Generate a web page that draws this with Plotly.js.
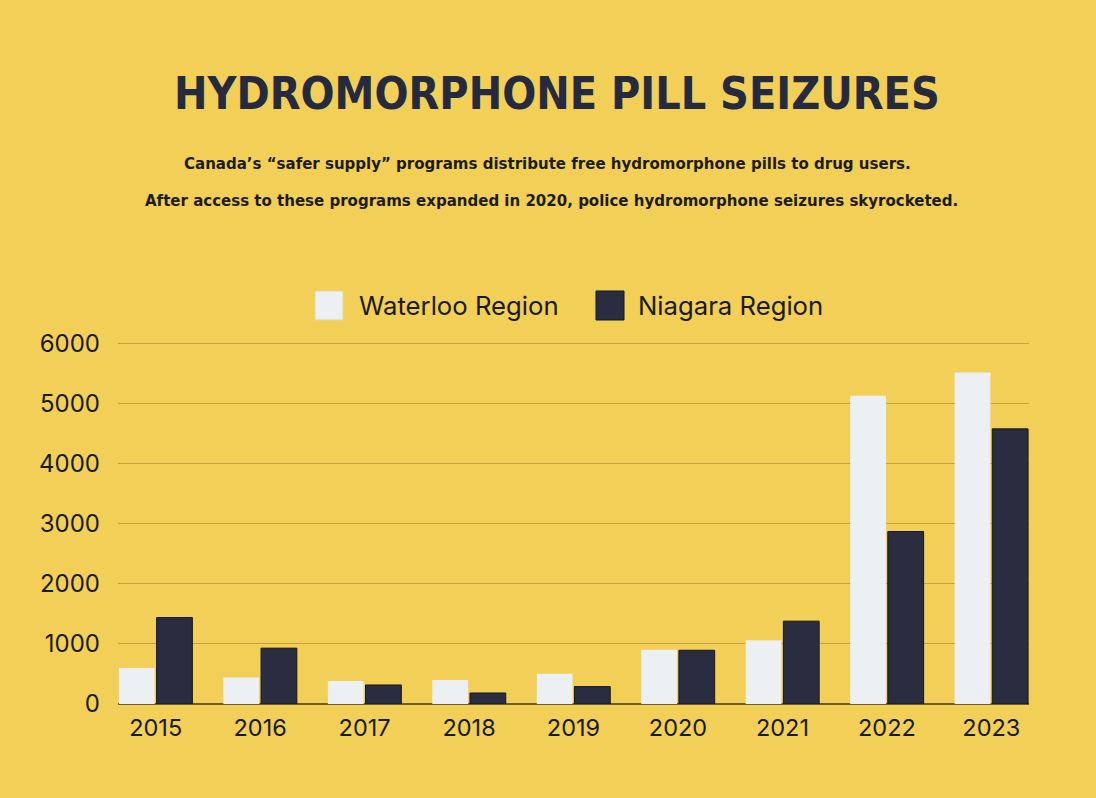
<!DOCTYPE html>
<html>
<head>
<meta charset="utf-8">
<script src="https://cdn.plot.ly/plotly-3.0.1.min.js"></script>
<style>html,body{margin:0;padding:0;background:#f2cf57;}#chart{width:1096px;height:798px;}</style>
</head>
<body>
<div id="chart"></div>
<script>
const years = ["2015","2016","2017","2018","2019","2020","2021","2022","2023"];
const seriesNames = ["Waterloo Region", "Niagara Region"];
const waterloo = [600, 440, 383, 400, 505, 905, 1063, 5133, 5522];
const niagara = [1440, 930, 317, 183, 290, 895, 1380, 2873, 4583];
const yTicks = [0, 1000, 2000, 3000, 4000, 5000, 6000];
const titleText = "HYDROMORPHONE PILL SEIZURES";
const subtitleLines = [
  "Canada\u2019s \u201csafer supply\u201d programs distribute free hydromorphone pills to drug users.",
  "After access to these programs expanded in 2020, police hydromorphone seizures skyrocketed."
];

const BG = "#f2cf57";
const LIGHT = "#edf0f2";
const DARK = "#2a2c40";
const W = 1096, H = 798;
const mL = 118, mR = 67, mT = 342, mB = 94;
const pw = W - mL - mR, ph = H - mT - mB;
const px2x = p => (p - mL) / pw;
const py2y = p => (H - mB - p) / ph;
const bargap = 0.279;
const half = (1 - bargap) / 2;

const traces = [
  {type: "bar", name: seriesNames[0], x: years, y: waterloo,
   marker: {color: LIGHT, line: {width: 0}}, showlegend: false, hoverinfo: "x+y"},
  {type: "bar", name: seriesNames[1], x: years, y: niagara,
   marker: {color: DARK, line: {color: "#15161f", width: 1}}, showlegend: false, hoverinfo: "x+y"}
];

const sans = "Inter, 'Open Sans', sans-serif";
const narrow = "'DejaVu Sans Condensed', 'Liberation Sans', sans-serif";

const annotations = [
  {text: "<b>" + titleText + "</b>", xref: "paper", yref: "paper", x: px2x(557), y: py2y(93),
   xanchor: "center", yanchor: "middle", showarrow: false,
   font: {family: narrow, size: 44.5, color: "#262a3e"}},
  {text: "<b>" + subtitleLines[0] + "</b>", xref: "paper", yref: "paper", x: px2x(547), y: py2y(163),
   xanchor: "center", yanchor: "middle", showarrow: false,
   font: {family: narrow, size: 16.7, color: "#1c1c1c"}},
  {text: "<b>" + subtitleLines[1] + "</b>", xref: "paper", yref: "paper", x: px2x(551), y: py2y(200),
   xanchor: "center", yanchor: "middle", showarrow: false,
   font: {family: narrow, size: 16.7, color: "#1c1c1c"}},
  {text: seriesNames[0], xref: "paper", yref: "paper", x: px2x(357), y: py2y(305),
   xanchor: "left", yanchor: "middle", showarrow: false,
   font: {family: sans, size: 25.7, color: "#1a1a1a"}},
  {text: seriesNames[1], xref: "paper", yref: "paper", x: px2x(636), y: py2y(305),
   xanchor: "left", yanchor: "middle", showarrow: false,
   font: {family: sans, size: 25.7, color: "#1a1a1a"}}
];

const shapes = [
  {type: "rect", xref: "paper", yref: "paper", x0: px2x(315), x1: px2x(343), y0: py2y(320), y1: py2y(291),
   fillcolor: LIGHT, line: {color: "#e6d89a", width: 1}},
  {type: "rect", xref: "paper", yref: "paper", x0: px2x(596), x1: px2x(624), y0: py2y(320), y1: py2y(291),
   fillcolor: DARK, line: {color: "#15161f", width: 1}}
];

const layout = {
  width: W, height: H,
  paper_bgcolor: BG, plot_bgcolor: BG,
  margin: {l: mL, r: mR, t: mT, b: mB},
  barmode: "group", bargap: bargap, bargroupgap: 0.05,
  showlegend: false,
  xaxis: {type: "category", range: [-half, years.length - 1 + half],
          tickfont: {family: sans, size: 23.5, color: "#1a1a1a"},
          showgrid: false, zeroline: false, showline: false,
          ticks: "", ticklen: 0, ticklabelstandoff: 7, fixedrange: true},
  yaxis: {range: [0, 6030], tickvals: yTicks, ticktext: yTicks.map(String),
          tickfont: {family: sans, size: 24, color: "#1a1a1a"},
          showgrid: true, gridcolor: "#c4a23e", gridwidth: 1,
          zeroline: true, zerolinecolor: "#6e5e25", zerolinewidth: 1.5,
          showline: false, ticks: "", ticklabelstandoff: 17, fixedrange: true},
  annotations: annotations,
  shapes: shapes,
  font: {family: sans}
};

Plotly.newPlot("chart", traces, layout, {displayModeBar: false, staticPlot: true});
</script>
</body>
</html>
